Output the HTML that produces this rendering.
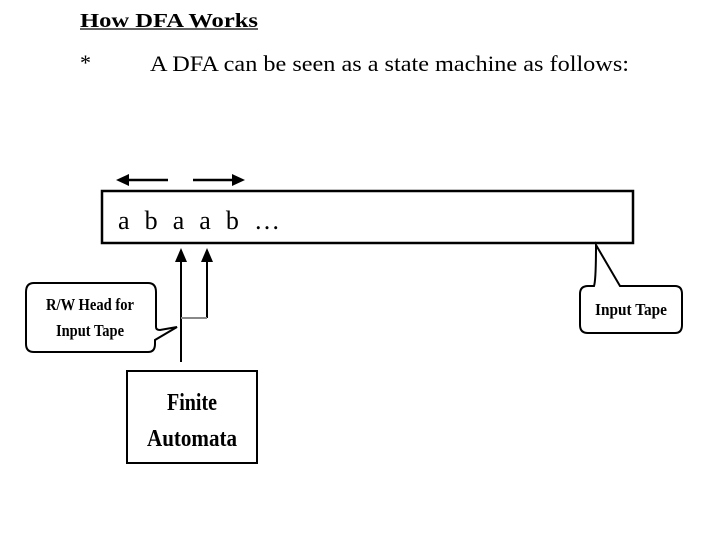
<!DOCTYPE html>
<html><head><style>
body{margin:0;width:720px;height:540px;background:#fff;overflow:hidden;font-family:"Liberation Serif",serif;}
</style></head><body>
<svg width="720" height="540" style="position:absolute;left:0;top:0">
<text x="80" y="27" font-size="20" font-weight="bold" textLength="178" lengthAdjust="spacingAndGlyphs" font-family="Liberation Serif">How DFA Works</text>
<line x1="80" y1="29" x2="258" y2="29" stroke="#000" stroke-width="1.3"/>
<text x="80" y="70" font-size="22" font-family="Liberation Serif">*</text>
<text x="150" y="71" font-size="22" textLength="479" lengthAdjust="spacingAndGlyphs" font-family="Liberation Serif">A DFA can be seen as a state machine as follows:</text>
<rect x="102" y="191" width="531" height="52" fill="#fff" stroke="#000" stroke-width="2.5"/>
<text x="118" y="229" font-size="26" font-family="Liberation Serif" textLength="162" lengthAdjust="spacing">a b a a b …</text>
<line x1="168" y1="180" x2="125" y2="180" stroke="#000" stroke-width="2.5"/>
<polygon points="116,180 129,174 129,186" fill="#000"/>
<line x1="193" y1="180" x2="236" y2="180" stroke="#000" stroke-width="2.5"/>
<polygon points="245,180 232,174 232,186" fill="#000"/>
<line x1="181" y1="258" x2="181" y2="362" stroke="#000" stroke-width="2"/>
<polygon points="181,248 175,262 187,262" fill="#000"/>
<line x1="207" y1="258" x2="207" y2="318" stroke="#000" stroke-width="2"/>
<polygon points="207,248 201,262 213,262" fill="#000"/>
<line x1="181" y1="318" x2="207" y2="318" stroke="#888" stroke-width="2"/>
<path d="M34,283 H148 Q156,283 156,292 V327 Q156,330 160,330 L177,327 L155,340 V344 Q155,352 148,352 H34 Q26,352 26,344 V292 Q26,283 34,283 Z" fill="#fff" stroke="#000" stroke-width="2"/>
<text x="90" y="310" font-size="17" font-weight="bold" text-anchor="middle" textLength="88" lengthAdjust="spacingAndGlyphs">R/W Head for</text>
<text x="90" y="336" font-size="17" font-weight="bold" text-anchor="middle" textLength="68" lengthAdjust="spacingAndGlyphs">Input Tape</text>
<rect x="127" y="371" width="130" height="92" fill="#fff" stroke="#000" stroke-width="2"/>
<text x="192" y="410" font-size="24" font-weight="bold" text-anchor="middle" textLength="50" lengthAdjust="spacingAndGlyphs">Finite</text>
<text x="192" y="446" font-size="24" font-weight="bold" text-anchor="middle" textLength="90" lengthAdjust="spacingAndGlyphs">Automata</text>
<path d="M588,286 H594 Q596,280 596,245 L620,286 H675 Q682,286 682,294 V325 Q682,333 675,333 H588 Q580,333 580,325 V294 Q580,286 588,286 Z" fill="#fff" stroke="#000" stroke-width="2"/>
<text x="631" y="315" font-size="17" font-weight="bold" text-anchor="middle" textLength="72" lengthAdjust="spacingAndGlyphs">Input Tape</text>
</svg>
</body></html>
